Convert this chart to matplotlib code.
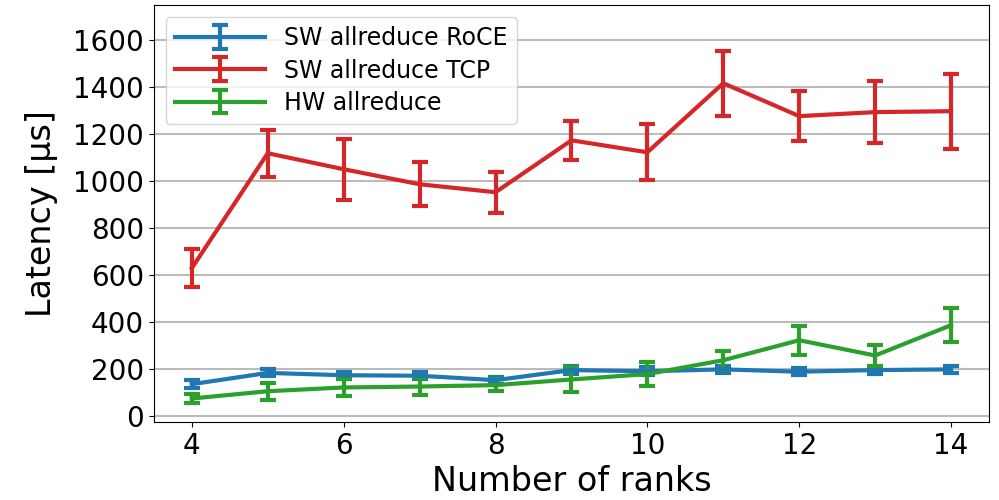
import matplotlib.pyplot as plt
import numpy as np

# ranks on x axis
ranks = [4, 5, 6, 7, 8, 9, 10, 11, 12, 13, 14]

# latency means [us]
roce_mean = [136, 184, 174, 172, 153, 196, 191, 199, 189, 196, 199]
tcp_mean = [630, 1119, 1051, 987, 953, 1174, 1123, 1417, 1277, 1294, 1298]
hw_mean = [75, 106, 122, 126, 132, 156, 179, 238, 323, 258, 387]

# error bars (std)
roce_err = [18, 15, 15, 15, 15, 16, 16, 16, 15, 15, 15]
tcp_err = [80, 100, 130, 93, 88, 83, 120, 138, 105, 132, 160]
hw_err = [18, 36, 36, 38, 25, 55, 52, 40, 62, 43, 72]

labels = ["SW allreduce RoCE", "SW allreduce TCP", "HW allreduce"]

fig = plt.figure(figsize=(9.99, 5), dpi=100)
ax = fig.add_axes([0.154, 0.156, 0.836, 0.834])

style = dict(linewidth=3, capsize=6, capthick=3, elinewidth=3)
ax.errorbar(ranks, roce_mean, yerr=roce_err, color="tab:blue", label=labels[0], **style)
ax.errorbar(ranks, tcp_mean, yerr=tcp_err, color="tab:red", label=labels[1], **style)
ax.errorbar(ranks, hw_mean, yerr=hw_err, color="tab:green", label=labels[2], **style)

ax.set_xlim(3.5, 14.5)
ax.set_ylim(-25, 1750)
ax.set_xticks([4, 6, 8, 10, 12, 14])
ax.set_yticks(np.arange(0, 1601, 200))
ax.tick_params(labelsize=20)
ax.yaxis.grid(True, color="#bbbbbb", linewidth=1.5)
ax.set_axisbelow(True)

ax.set_xlabel("Number of ranks", fontsize=24)
ax.set_ylabel("Latency [µs]", fontsize=24, labelpad=11)
ax.legend(loc="upper left", fontsize=17, handlelength=3.8, labelspacing=0.35)

plt.savefig("out.png", dpi=100)
